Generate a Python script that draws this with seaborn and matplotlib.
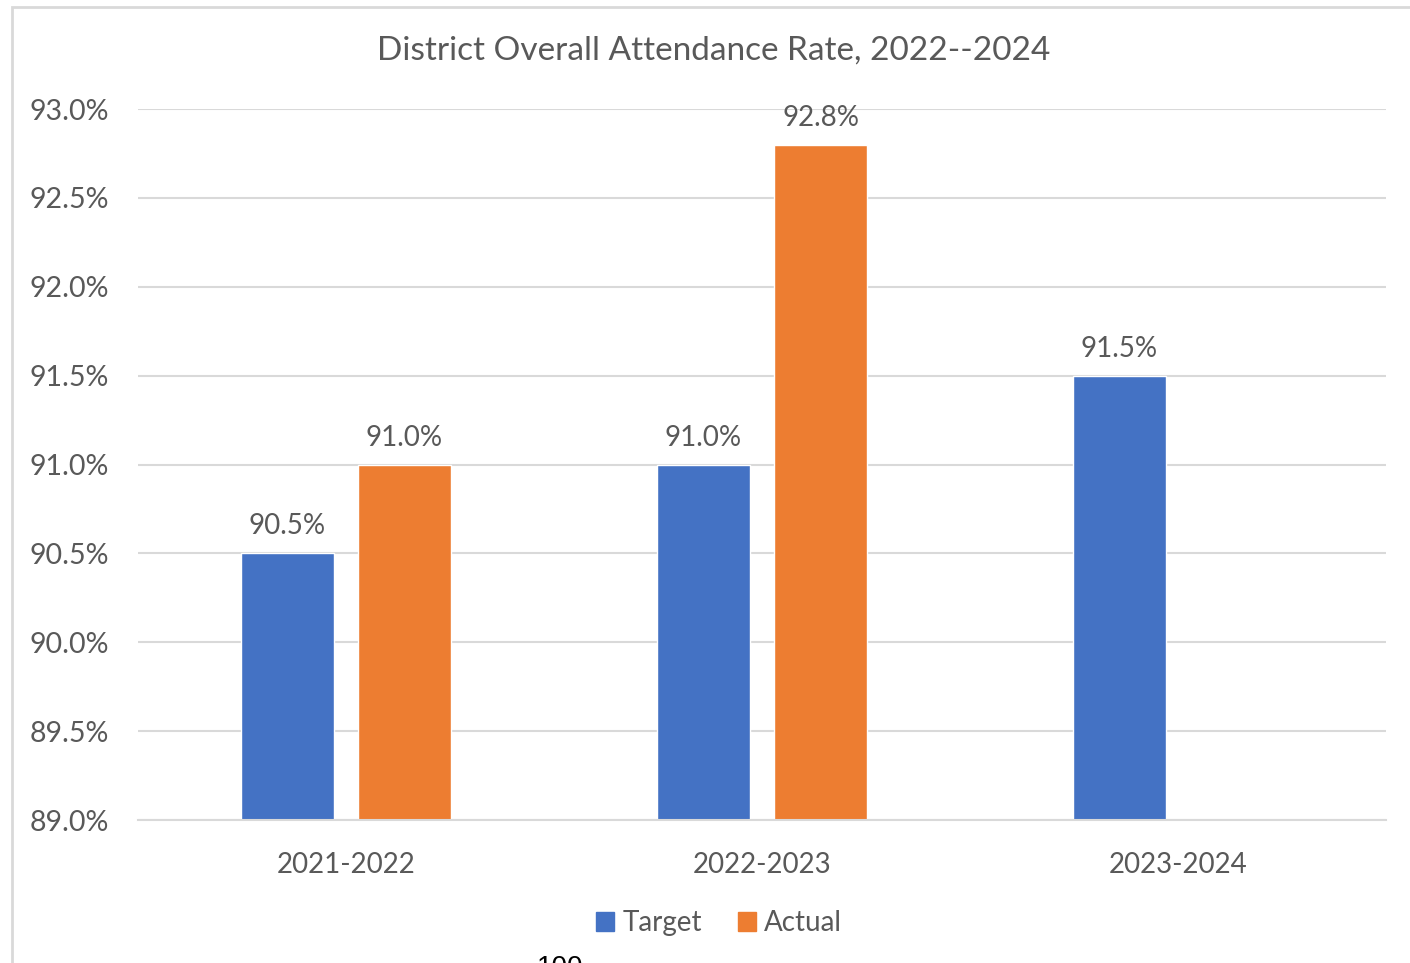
import numpy as np
import pandas as pd
import matplotlib
matplotlib.use("Agg")
import matplotlib.pyplot as plt
import seaborn as sns
from matplotlib.patches import Rectangle
from matplotlib.ticker import FuncFormatter

# chart data
years = ["2021-2022", "2022-2023", "2023-2024"]
target = [90.5, 91.0, 91.5]
actual = [91.0, 92.8, np.nan]
series = ["Target", "Actual"]
colors = ["#4472C4", "#ED7D31"]

df = pd.DataFrame({
    "Year": years * 2,
    "Series": ["Target"] * 3 + ["Actual"] * 3,
    "Rate": target + actual,
})

sns.set_style("white")
plt.rcParams["font.family"] = ["Lato", "DejaVu Sans"]
text_col = "#595959"
grid_col = "#D9D9D9"

W, H = 1410, 963
fig = plt.figure(figsize=(W / 100, H / 100), dpi=100)
ax = fig.add_axes([138 / W, 1 - 820 / H, (1386 - 138) / W, (820 - 109) / H])

sns.barplot(data=df, x="Year", y="Rate", hue="Series", hue_order=series,
            palette=colors, width=0.5625, gap=0.205, ax=ax, legend=False,
            saturation=1)

ax.set_ylim(89.0, 93.0)
ax.set_xlim(-0.5, 2.5)
ax.set_yticks(np.arange(89.0, 93.01, 0.5))
ax.yaxis.set_major_formatter(FuncFormatter(lambda v, p: f"{v:.1f}%"))
ax.grid(axis="y", color=grid_col, linewidth=1.5)
ax.set_axisbelow(True)
for s in ["top", "right", "left"]:
    ax.spines[s].set_visible(False)
ax.spines["bottom"].set_color(grid_col)
ax.spines["bottom"].set_linewidth(1.5)
ax.set_xlabel("")
ax.set_ylabel("")
ax.tick_params(axis="y", length=0, pad=21, labelsize=20.5, labelcolor=text_col)
ax.tick_params(axis="x", length=0, pad=23, labelsize=20, labelcolor=text_col)

# data labels
for cont in ax.containers:
    labels = [f"{b.get_height():.1f}%" if not np.isnan(b.get_height()) else "" for b in cont]
    ax.bar_label(cont, labels=labels, padding=10, fontsize=20, color=text_col)

fig.text(714 / W, 1 - 51 / H, "District Overall Attendance Rate, 2022--2024",
         ha="center", va="center", fontsize=24, color=text_col)

# legend
handles = [Rectangle((0, 0), 1, 1, color=c) for c in colors]
fig.legend(handles, series, loc="center", bbox_to_anchor=(719 / W, 1 - 923 / H),
           ncol=2, frameon=False, fontsize=20, labelcolor=text_col,
           handlelength=0.65, handleheight=0.65, handletextpad=0.3,
           columnspacing=1.3)

# chart border
fig.add_artist(Rectangle((12 / W, -0.05), 1.1, 1 - 7 / H + 0.05,
                         transform=fig.transFigure, fill=False,
                         edgecolor=grid_col, linewidth=2))

# cut-off page text below the chart
fig.text(537 / W, 1 - 955 / H, "100", ha="left", va="top", fontsize=20,
         color="black", family=["Liberation Sans"])

fig.savefig("out.png", dpi=100)
